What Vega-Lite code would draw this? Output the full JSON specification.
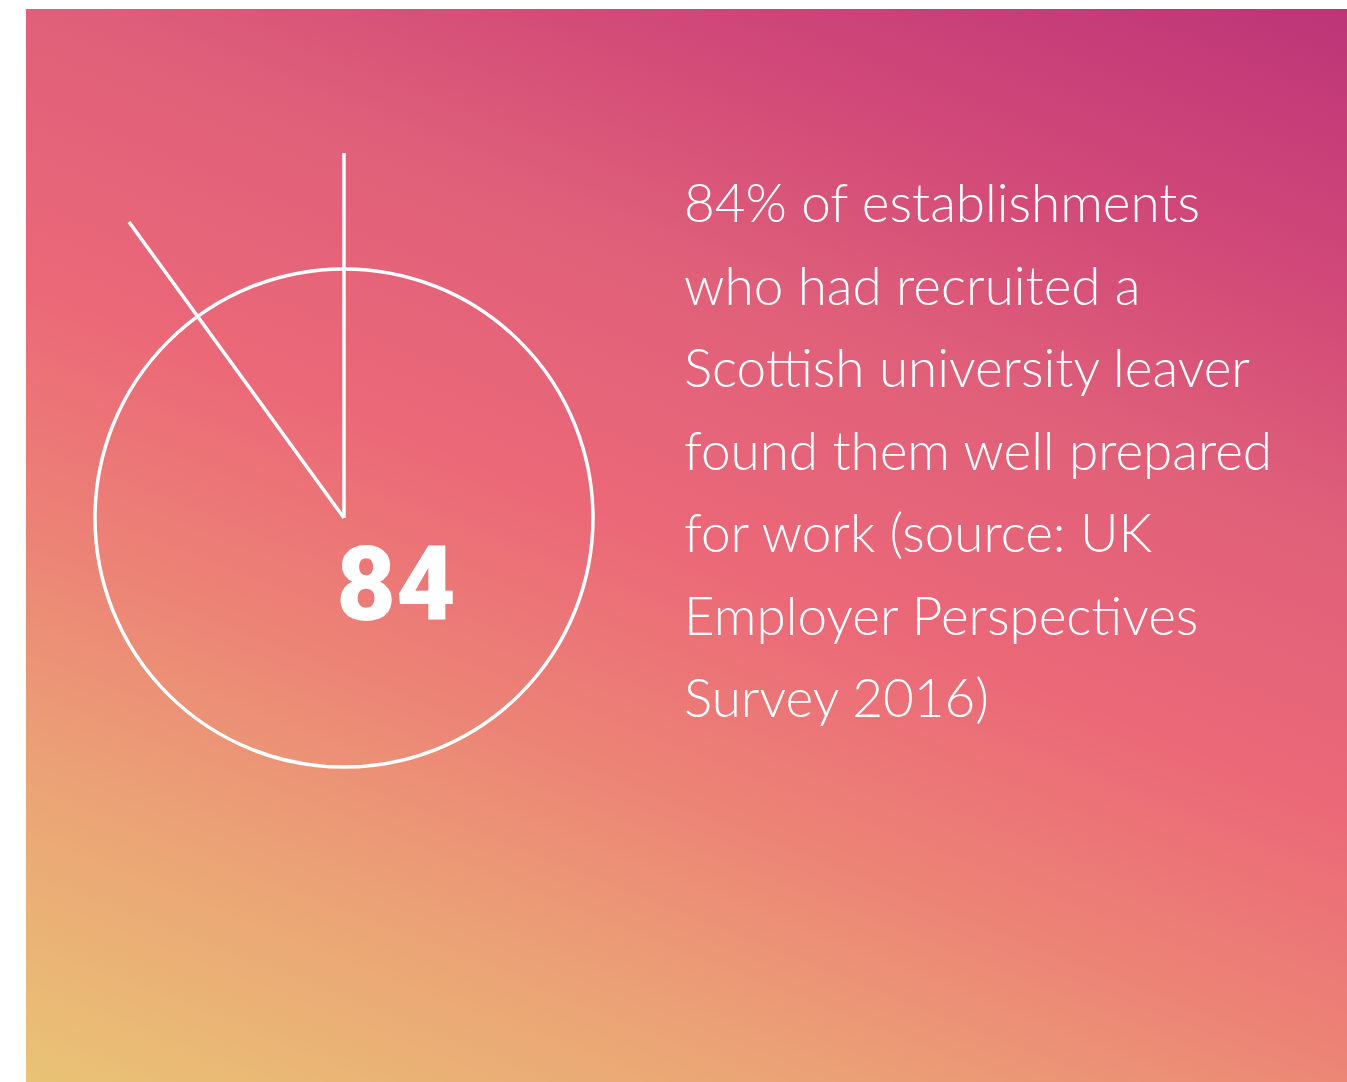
{
  "$schema": "https://vega.github.io/schema/vega-lite/v6.json",
  "width": 1347,
  "height": 1082,
  "autosize": {"type": "fit", "contains": "padding"},
  "padding": 0,
  "background": "white",
  "config": {"view": {"stroke": null}},
  "datasets": {
    "panel": [{"x0": 26, "x1": 1347, "y0": 9, "y1": 1082}],
    "dial": [{"cx": 344, "cy": 518, "share": 84}],
    "spokes": [
      {"x0": 344, "y0": 518, "x1": 344, "y1": 153},
      {"x0": 344, "y0": 518, "x1": 129, "y1": 222}
    ],
    "figure": [{"x": 396, "y": 620, "label": "84"}],
    "caption": [{"x": 684, "y": 222, "text": "84% of establishments\nwho had recruited a\nScottish university leaver\nfound them well prepared\nfor work (source: UK\nEmployer Perspectives\nSurvey 2016)"}]
  },
  "layer": [
    {
      "data": {"name": "panel"},
      "mark": {
        "type": "rect",
        "fill": {
          "gradient": "linear",
          "x1": 0.205, "y1": 1.103, "x2": 0.795, "y2": -0.103,
          "stops": [
            {"offset": 0, "color": "#E9C375"},
            {"offset": 0.2, "color": "#EBA276"},
            {"offset": 0.35, "color": "#EC8276"},
            {"offset": 0.5, "color": "#EB6878"},
            {"offset": 0.67, "color": "#E0607A"},
            {"offset": 0.81, "color": "#D24A78"},
            {"offset": 1, "color": "#BD3478"}
          ]
        }
      },
      "encoding": {
        "x": {"field": "x0", "type": "quantitative", "scale": {"domain": [0, 1347], "nice": false, "zero": false}, "axis": null},
        "x2": {"field": "x1"},
        "y": {"field": "y0", "type": "quantitative", "scale": {"domain": [0, 1082], "nice": false, "zero": false, "reverse": true}, "axis": null},
        "y2": {"field": "y1"}
      }
    },
    {
      "data": {"name": "dial"},
      "mark": {"type": "point", "shape": "circle", "filled": false, "stroke": "white", "strokeWidth": 3.5, "opacity": 1, "size": 248004},
      "encoding": {
        "x": {"field": "cx", "type": "quantitative"},
        "y": {"field": "cy", "type": "quantitative"}
      }
    },
    {
      "data": {"name": "spokes"},
      "mark": {"type": "rule", "stroke": "white", "strokeWidth": 3.5},
      "encoding": {
        "x": {"field": "x0", "type": "quantitative"},
        "y": {"field": "y0", "type": "quantitative"},
        "x2": {"field": "x1"},
        "y2": {"field": "y1"}
      }
    },
    {
      "data": {"name": "figure"},
      "mark": {"type": "text", "font": "Roboto", "fontWeight": 900, "fontSize": 103, "color": "white", "align": "center", "baseline": "alphabetic"},
      "encoding": {
        "x": {"field": "x", "type": "quantitative"},
        "y": {"field": "y", "type": "quantitative"},
        "text": {"field": "label"}
      }
    },
    {
      "data": {"name": "caption"},
      "mark": {"type": "text", "font": "Lato", "fontWeight": 300, "fontSize": 53, "lineHeight": 82.5, "lineBreak": "\n", "color": "white", "align": "left", "baseline": "alphabetic"},
      "encoding": {
        "x": {"field": "x", "type": "quantitative"},
        "y": {"field": "y", "type": "quantitative"},
        "text": {"field": "text"}
      }
    }
  ]
}
